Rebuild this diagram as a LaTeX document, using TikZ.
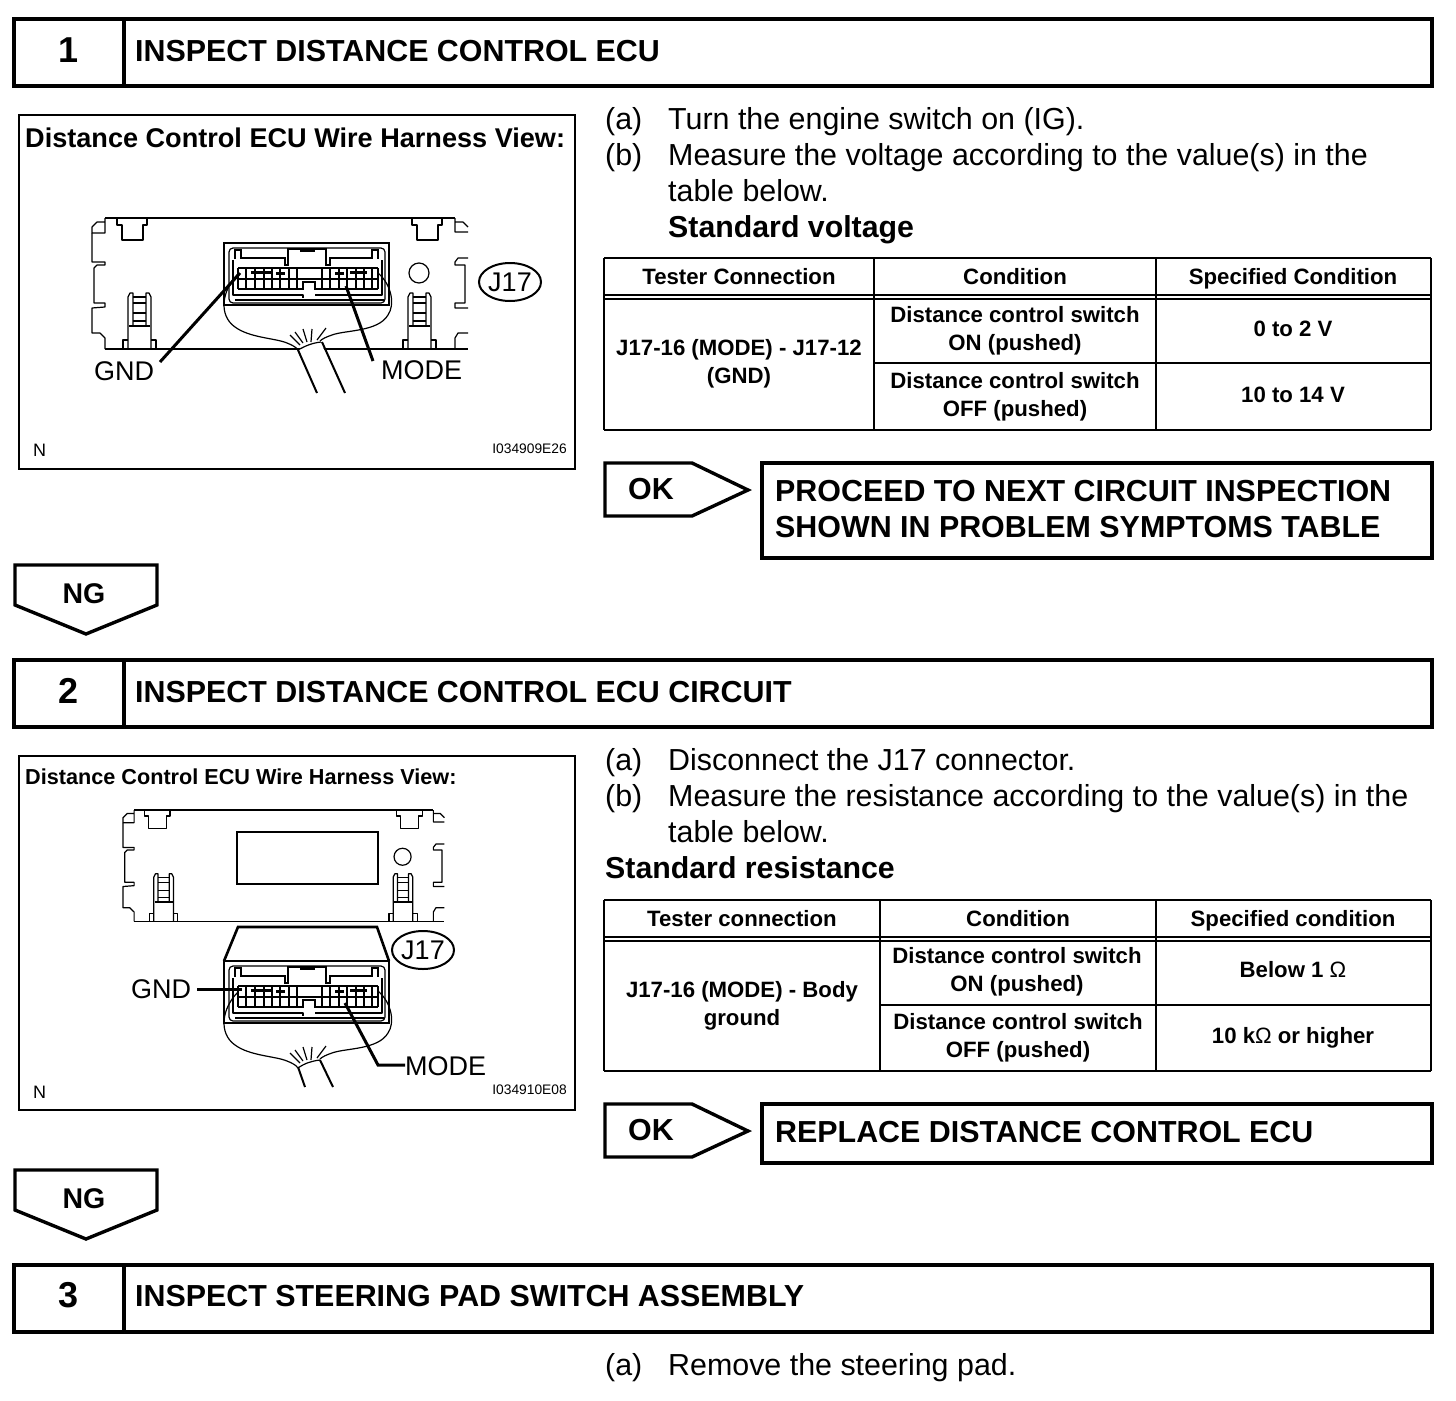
\documentclass[tikz,border=0pt]{standalone}
\usepackage{fontspec}
\usetikzlibrary{shapes.geometric}
\setmainfont{Liberation Sans}
\newcommand{\fs}[1]{\fontsize{#1}{#1}\selectfont}
\tikzset{
  x=1pt,y=-1pt,
  thickbox/.style={draw=black,line width=3.4pt,fill=white,line join=miter},
  panel/.style={draw=black,line width=2.4pt},
  grid/.style={draw=black,line width=2pt},
  txt/.style={anchor=base west,inner sep=0pt,font=\fs{30.4}},
  btxt/.style={anchor=base west,inner sep=0pt,font=\fs{30.3}\bfseries},
  head/.style={anchor=base west,inner sep=0pt,font=\fs{30.4}\bfseries},
  num/.style={anchor=base,inner sep=0pt,font=\fs{36}\bfseries},
  cell/.style={align=center,inner sep=0pt,font=\fs{22.2}\bfseries},
  hcell/.style={anchor=base,inner sep=0pt,font=\fs{22.2}\bfseries},
  tag/.style={anchor=base,inner sep=0pt,font=\fs{30.4}\bfseries},
  ngtag/.style={anchor=base,inner sep=0pt,font=\fs{28.5}\bfseries},
  lbl/.style={anchor=base west,inner sep=0pt,font=\fs{27}},
  small/.style={anchor=base east,inner sep=0pt,font=\fs{13.8}},
  thin/.style={line width=1.2pt,line join=round},
  med/.style={line width=2pt},
  leader/.style={line width=3pt},
  jring/.style={draw,line width=2pt,ellipse,minimum width=62pt,minimum height=38pt,inner sep=0pt,font=\fs{27}},
}
\newcommand{\housing}{%
  \draw[thin] (105,349)--(468,349);
  \draw[thin] (105,218)--(455,218);
  \draw[thin] (105,218)--(105,222)--(97,222)--(92,227)--(92,233)--(105,233)--(105,222);
  \draw[thin] (92,233)--(92,262)--(105,262)--(105,265)--(97,265)--(94,268)--(94,303)--(105,303)--(105,307)--(92,308)--(92,333)--(100,333)--(105,338)--(105,349);
  \draw[thin] (455,218)--(455,222)--(463,222)--(468,227) (468,232)--(455,232)--(455,222);
  \draw[thin] (468,258)--(458,258)--(455,262)--(455,265)--(465,265)--(465,303)--(455,303)--(455,308)--(468,308);
  \draw[thin] (468,333)--(458,333)--(455,338)--(455,349);
  \foreach \tx in {117,412}{
    \draw[thin] (\tx,218)--(\tx,225)--(\tx+5,225)--(\tx+5,240)--(\tx+26,240)--(\tx+26,225)--(\tx+30,225)--(\tx+30,218);
  }
  \foreach \lx in {128,408}{
    \draw[thin] (\lx,349)--(\lx,297)--(\lx+2,293)--(\lx+5,293)--(\lx+5,326)--(\lx+18,326)--(\lx+18,293)--(\lx+21,293)--(\lx+23,297)--(\lx+23,349);
    \draw[thin] (\lx+5,297)--(\lx+18,297) (\lx+5,303)--(\lx+18,303) (\lx+5,313)--(\lx+18,313) (\lx+5,321)--(\lx+18,321);
    \draw[med] (\lx+1,326)--(\lx+22,326);
    \draw[thin] (\lx,340)--(\lx-5,340)--(\lx-5,349) (\lx+23,340)--(\lx+28,340)--(\lx+28,349);
  }
  \draw[thin] (419,273) circle[radius=10];
}
\newcommand{\connector}{%
  \draw[line width=2.6pt] (224,243) rectangle (389,305);
  \draw[thin,rounded corners=4pt] (229,248) rectangle (385,303);
  \draw[line width=1.6pt] (235,300)--(384,300);
  \draw[med] (235,259)--(235,250)--(241,250)--(241,258)--(285,258)--(285,265)--(288,265)--(288,249)--(326,249)--(326,265)--(330,265)--(330,258)--(372,258)--(372,250)--(378,250)--(378,259);
  \draw[thin] (300,251)--(315,251);
  \draw[thin] (233,260)--(233,295)--(303,295)--(303,298) (382,260)--(382,295)--(315,295);
  \draw[line width=1.5pt] (238,268)--(378,268) (238,279)--(378,279) (238,289)--(303,289)--(303,282)--(315,282)--(315,289)--(378,289);
  \draw[line width=1.5pt] (238,268)--(238,289) (378,268)--(378,289);
  \foreach \px in {246,255,264,272,280,289,297,322,330,339,347,356,364,372}{
    \draw[line width=1.3pt] (\px,268)--(\px,289);
  }
  \draw[line width=3pt] (251,272)--(272,272) (276,273)--(285,273) (335,273)--(344,273) (350,272)--(367,272);
  \draw[thin] (238,274) .. controls (222,290) and (218,315) .. (235,327) .. controls (250,338) and (275,338) .. (287,343) .. controls (292,345) and (296,347) .. (298,350);
  \draw[thin] (378,273) .. controls (392,285) and (395,305) .. (388,315) .. controls (378,332) and (345,330) .. (332,335) .. controls (326,337) and (322,339) .. (320,341);
  \draw[thin] (290,335)--(300,345) (295,332)--(303,343) (303,329)--(307,342) (312,329)--(311,342) (326,328)--(317,340);
}
\begin{document}
\begin{tikzpicture}
\useasboundingbox (0,0) rectangle (1456,1400);
\fill[white] (0,0) rectangle (1456,1400);
%% ---- section headers
\draw[thickbox] (14,19) rectangle (1432,86);
\draw[thickbox] (124,19)--(124,86);
\node[num] (n1) at (69,62) {1};
\node[head] (h1) at (135,61) {INSPECT DISTANCE CONTROL ECU};
\draw[thickbox] (14,660) rectangle (1432,727);
\draw[thickbox] (124,660)--(124,727);
\node[num] (n2) at (69,703) {2};
\node[head] (h2) at (135,702) {INSPECT DISTANCE CONTROL ECU CIRCUIT};
\draw[thickbox] (14,1265) rectangle (1432,1332);
\draw[thickbox] (124,1265)--(124,1332);
\node[num] (n3) at (69,1307) {3};
\node[head] (h3) at (135,1306) {INSPECT STEERING PAD SWITCH ASSEMBLY};
%% ---- figure 1
\draw[panel] (19,115) rectangle (575,469);
\node[anchor=base west,inner sep=0pt,font=\fs{27.1}\bfseries] (f1t) at (25,147) {Distance Control ECU Wire Harness View:};
\housing
\connector
\fill[white] (298,350)--(320,341)--(345,393)--(317,393)--cycle;
\draw[thin] (298,350) .. controls (305,346) and (312,343) .. (321,342);
\draw[med] (298,350)--(317,393) (322,342)--(345,393);
\node[jring] (j1) at (510,282) {J17};
\node[lbl] (gnd1) at (94,380) {GND};
\node[lbl] (mode1) at (381,379) {MODE};
\coordinate (gp1) at (240,273);
\coordinate (mp1) at (346,286);
\coordinate (ga1) at (160,362);
\coordinate (ma1) at (373,361);
\draw[leader] (ga1)--(gp1);
\draw[leader] (ma1)--(mp1);
\node[anchor=base west,inner sep=0pt,font=\fs{18}] (nn1) at (33,456) {N};
\node[small] (id1) at (567,453) {I034909E26};
%% ---- instructions 1
\node[txt] (a1) at (605,129) {(a)};
\node[txt] (a1t) at (668,129) {Turn the engine switch on (IG).};
\node[txt] (b1) at (605,165) {(b)};
\node[txt] (b1t) at (668,165) {Measure the voltage according to the value(s) in the};
\node[txt] (b1u) at (668,201) {table below.};
\node[btxt] (s1) at (668,237) {Standard voltage};
%% ---- table 1
\draw[grid] (604,258)--(1431,258) (604,295)--(1431,295) (604,299)--(1431,299) (874,363)--(1431,363) (604,430)--(1431,430);
\draw[grid] (604,258)--(604,430) (874,258)--(874,430) (1156,258)--(1156,430) (1431,258)--(1431,430);
\node[hcell] (c11) at (739,284) {Tester Connection};
\node[hcell] (c12) at (1015,284) {Condition};
\node[hcell] (c13) at (1293,284) {Specified Condition};
\node[cell] (c21) at (739,363.5) {J17-16 (MODE) - J17-12\\[6pt](GND)};
\node[cell] (c22) at (1015,330.5) {Distance control switch\\[6pt]ON (pushed)};
\node[cell] (c23) at (1293,329) {0 to 2 V};
\node[cell] (c32) at (1015,397) {Distance control switch\\[6pt]OFF (pushed)};
\node[cell] (c33) at (1293,395) {10 to 14 V};
%% ---- OK 1 / NG 1
\draw[thickbox] (605,463)--(692,463)--(748,490)--(692,516)--(605,516)--cycle;
\node[tag] (ok1) at (651,499) {OK};
\draw[thickbox] (762,463) rectangle (1432,558);
\node[head] (r1) at (775,501) {PROCEED TO NEXT CIRCUIT INSPECTION};
\node[head] (r1b) at (775,537) {SHOWN IN PROBLEM SYMPTOMS TABLE};
\draw[thickbox] (15,565)--(157,565)--(157,605)--(86,634)--(15,605)--cycle;
\node[ngtag] (ng1) at (84,603) {NG};
%% ---- figure 2
\draw[panel] (19,756) rectangle (575,1110);
\node[anchor=base west,inner sep=0pt,font=\fs{21.65}\bfseries] (f2t) at (25,784) {Distance Control ECU Wire Harness View:};
\begin{scope}[shift={(44.34,624.7)},xscale=.855,yscale=.85]
  \housing
\end{scope}
\draw[line width=2.8pt] (237,832) rectangle (378,884);
\draw[line width=2.6pt] (224,961)--(238,927)--(377,927)--(389,961);
\begin{scope}[shift={(0,718)}]
  \connector
\end{scope}
\draw[med] (298,1067)--(305,1087) (320,1060)--(333,1087);
\draw[thin] (298,1068) .. controls (305,1063) and (312,1061) .. (320,1060);
\node[jring,fill=white] (j2) at (423,950) {J17};
\node[lbl] (gnd2) at (131,998) {GND};
\node[lbl] (mode2) at (405,1075) {MODE};
\coordinate (gp2) at (242,989);
\coordinate (mp2) at (345,1003);
\coordinate (mk2) at (378,1065);
\draw[leader] ([xshift=6pt]gnd2.east |- gp2)--(gp2);
\draw[leader] (mode2.west |- mk2)--(mk2)--(mp2);
\node[anchor=base west,inner sep=0pt,font=\fs{18}] (nn2) at (33,1098) {N};
\node[small] (id2) at (567,1094) {I034910E08};
%% ---- instructions 2
\node[txt] (a2) at (605,770) {(a)};
\node[txt] (a2t) at (668,770) {Disconnect the J17 connector.};
\node[txt] (b2) at (605,806) {(b)};
\node[txt] (b2t) at (668,806) {Measure the resistance according to the value(s) in the};
\node[txt] (b2u) at (668,842) {table below.};
\node[btxt] (s2) at (605,878) {Standard resistance};
%% ---- table 2
\draw[grid] (604,900)--(1431,900) (604,937)--(1431,937) (604,941)--(1431,941) (880,1005)--(1431,1005) (604,1071)--(1431,1071);
\draw[grid] (604,900)--(604,1071) (880,900)--(880,1071) (1156,900)--(1156,1071) (1431,900)--(1431,1071);
\node[hcell] (d11) at (742,926) {Tester connection};
\node[hcell] (d12) at (1018,926) {Condition};
\node[hcell] (d13) at (1293,926) {Specified condition};
\node[cell] (d21) at (742,1005.5) {J17-16 (MODE) - Body\\[6pt]ground};
\node[cell] (d22) at (1017,972) {Distance control switch\\[6pt]ON (pushed)};
\node[cell] (d23) at (1293,970) {Below 1 {\mdseries Ω}};
\node[cell] (d32) at (1018,1038) {Distance control switch\\[6pt]OFF (pushed)};
\node[cell] (d33) at (1293,1038) {10 k{\mdseries Ω} or higher};
%% ---- OK 2 / NG 2
\draw[thickbox] (605,1104)--(692,1104)--(748,1131)--(692,1157)--(605,1157)--cycle;
\node[tag] (ok2) at (651,1140) {OK};
\draw[thickbox] (762,1104) rectangle (1432,1163);
\node[head] (r2) at (775,1142) {REPLACE DISTANCE CONTROL ECU};
\draw[thickbox] (15,1170)--(157,1170)--(157,1210)--(86,1239)--(15,1210)--cycle;
\node[ngtag] (ng2) at (84,1208) {NG};
%% ---- instructions 3
\node[txt] (a3) at (605,1375) {(a)};
\node[txt] (a3t) at (668,1375) {Remove the steering pad.};
\end{tikzpicture}
\end{document}
